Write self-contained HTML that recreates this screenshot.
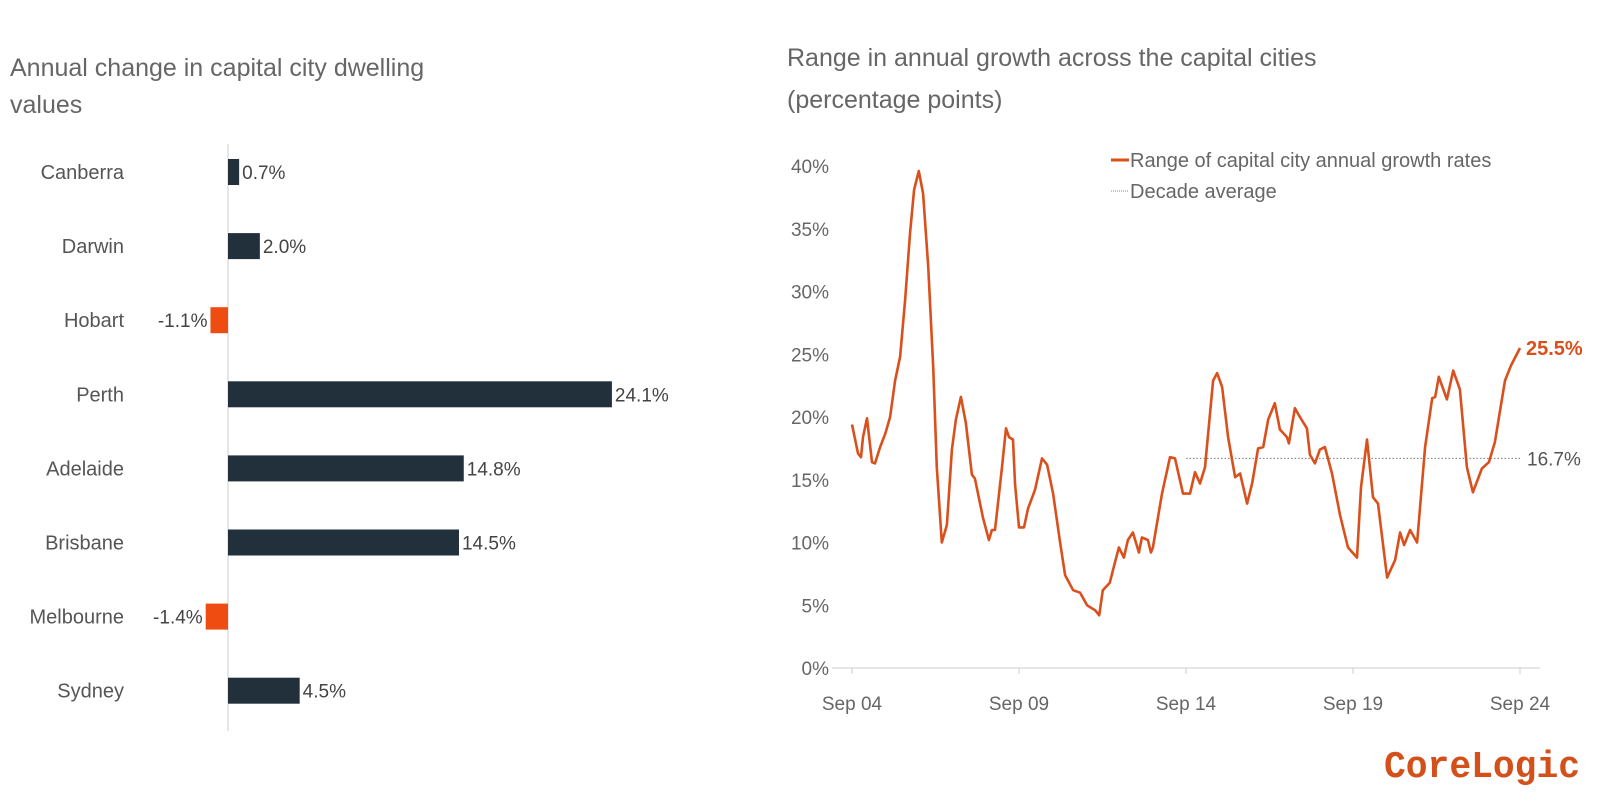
<!DOCTYPE html>
<html><head><meta charset="utf-8"><style>
html,body{margin:0;padding:0;background:#fff;}
body{width:1613px;height:801px;position:relative;overflow:hidden;font-family:"Liberation Sans",sans-serif;color:#555;}
svg{position:absolute;left:0;top:0;}
</style></head><body>
<svg id="c" width="1613" height="801" xmlns="http://www.w3.org/2000/svg"></svg>
<script>
const cities = ["Canberra","Darwin","Hobart","Perth","Adelaide","Brisbane","Melbourne","Sydney"];
const cityChange = [0.7,2.0,-1.1,24.1,14.8,14.5,-1.4,4.5];
const cityLabels = ["0.7%","2.0%","-1.1%","24.1%","14.8%","14.5%","-1.4%","4.5%"];

const yTicks = [0,5,10,15,20,25,30,35,40];
const yTickLabels = ["0%","5%","10%","15%","20%","25%","30%","35%","40%"];
const xTicks = [0,5,10,15,20];
const xTickLabels = ["Sep 04","Sep 09","Sep 14","Sep 19","Sep 24"];
const decadeAvg = 16.7;
const decadeStart = 10;
// years since Sep 2004
const growthDates = [0,0.18,0.27,0.33,0.45,0.6,0.69,0.84,1.0,1.14,1.29,1.44,1.59,1.74,1.86,2.0,2.13,2.28,2.43,2.54,2.69,2.84,2.99,3.11,3.26,3.41,3.59,3.68,3.92,4.1,4.19,4.28,4.49,4.61,4.7,4.82,4.88,5.0,5.15,5.27,5.48,5.69,5.84,6.02,6.23,6.38,6.62,6.83,7.04,7.28,7.4,7.51,7.72,7.87,7.99,8.14,8.26,8.41,8.59,8.68,8.86,8.95,9.01,9.28,9.52,9.67,9.91,10.12,10.27,10.42,10.57,10.81,10.93,11.08,11.26,11.47,11.62,11.83,11.98,12.16,12.31,12.46,12.66,12.81,13.02,13.08,13.26,13.41,13.62,13.71,13.86,14.01,14.16,14.37,14.61,14.85,15.12,15.24,15.42,15.6,15.75,16.02,16.26,16.41,16.53,16.71,16.92,17.16,17.37,17.46,17.57,17.81,18.0,18.2,18.41,18.59,18.86,19.07,19.25,19.37,19.55,19.73,20.0];
const growthValues = [19.4,17.1,16.8,18.4,19.9,16.4,16.3,17.6,18.7,20.0,22.9,24.8,29.3,34.7,38.1,39.6,37.8,32.0,24.0,16.0,10.0,11.4,17.4,19.8,21.6,19.5,15.4,15.1,12.0,10.2,11.0,11.0,16.0,19.1,18.4,18.2,14.7,11.2,11.2,12.7,14.2,16.7,16.2,13.9,10.0,7.4,6.2,6.0,5.0,4.6,4.2,6.2,6.8,8.4,9.6,8.8,10.2,10.8,9.2,10.4,10.2,9.2,9.6,13.9,16.8,16.7,13.9,13.9,15.6,14.7,16.0,22.9,23.5,22.4,18.4,15.2,15.5,13.1,14.7,17.5,17.6,19.8,21.1,19.0,18.4,17.9,20.7,20.0,19.1,17.0,16.3,17.4,17.6,15.5,12.2,9.6,8.8,14.4,18.2,13.6,13.1,7.2,8.6,10.8,9.8,11.0,10.0,17.6,21.5,21.6,23.2,21.4,23.7,22.2,16.0,14.0,15.9,16.4,18.0,20.0,22.9,24.1,25.5];
const lastLabel = "25.5%";
const avgLabel = "16.7%";

const NS="http://www.w3.org/2000/svg";
const svg=document.getElementById('c');
function mk(tag,attrs,parent){const e=document.createElementNS(NS,tag);for(const k in attrs)e.setAttribute(k,attrs[k]);(parent||svg).appendChild(e);return e;}
function txt(s,attrs){const e=mk('text',attrs);e.textContent=s;return e;}
const F='"Liberation Sans",sans-serif';

// titles
let t=txt("Annual change in capital city dwelling",{x:10,y:76,'font-size':25,fill:'#666','font-family':F});

t=txt("values",{x:10,y:113,'font-size':25,fill:'#666','font-family':F});

t=txt("Range in annual growth across the capital cities",{x:787,y:66,'font-size':25,fill:'#666','font-family':F});

t=txt("(percentage points)",{x:787,y:108,'font-size':25,fill:'#666','font-family':F});


// bar chart
const bx0=228, bxs=15.93, by0=172, bys=74.1, bh=26;
const bX=v=>bx0+v*bxs, bY=i=>by0+i*bys;
let ax=mk('line',{x1:bx0,x2:bx0,y1:144,y2:731,stroke:'#ccc','stroke-width':1});

cities.forEach((c,i)=>{
  const v=cityChange[i], y=bY(i);
  const l=txt(c,{x:124,y:y+7,'text-anchor':'end','font-size':20,fill:'#555','font-family':F});
  
  
  const x1=Math.min(bX(0),bX(v)), w=Math.abs(bX(v)-bX(0));
  const r=mk('rect',{x:x1,y:y-bh/2,width:w,height:bh,fill:v<0?'#ee4c10':'#22303c'});
  
  
  const vl=txt(cityLabels[i],{x:v<0?x1-3:x1+w+3,y:y+7,'text-anchor':v<0?'end':'start','font-size':19,fill:'#444','font-family':F});
  
  
});

// line chart
const lx0=852, lxs=33.4, ly0=668, lys=12.55;
const X=d=>lx0+d*lxs, Y=v=>ly0-v*lys;
ax=mk('line',{x1:lx0-20,x2:X(20)+20,y1:Y(0),y2:Y(0),stroke:'#ccc','stroke-width':1});

yTicks.forEach((v,i)=>{
  const e=txt(yTickLabels[i],{x:829,y:Y(v)+7,'text-anchor':'end','font-size':19,fill:'#666','font-family':F});
  
  
});
xTicks.forEach((d,i)=>{
  const tk=mk('line',{x1:X(d),x2:X(d),y1:Y(0),y2:Y(0)+6,stroke:'#ccc'});
  
  
  const e=txt(xTickLabels[i],{x:X(d),y:Y(0)+42,'text-anchor':'middle','font-size':19,fill:'#666','font-family':F});
  
  
});
let avg=mk('line',{x1:X(decadeStart),x2:X(20),y1:Y(decadeAvg),y2:Y(decadeAvg),stroke:'#777','stroke-width':1,'stroke-dasharray':'1.5 2'});

let d=growthDates.map((g,i)=>(i?'L':'M')+X(g).toFixed(1)+' '+Y(growthValues[i]).toFixed(1)).join(' ');
let p=mk('path',{d:d,fill:'none',stroke:'#d9501c','stroke-width':2.6,'stroke-linejoin':'round'});

const li=growthValues.length-1;
t=txt(lastLabel,{x:X(growthDates[li])+6,y:Y(growthValues[li])+7,'font-size':20,'font-weight':'bold',fill:'#d9501c','font-family':F});

t=txt(avgLabel,{x:X(20)+7,y:Y(decadeAvg)+7,'font-size':19,fill:'#555','font-family':F});


// legend
let lg=mk('line',{x1:1111,x2:1129,y1:160,y2:160,stroke:'#d9501c','stroke-width':3});

t=txt("Range of capital city annual growth rates",{x:1130,y:167,'font-size':20,fill:'#666','font-family':F});

lg=mk('line',{x1:1111,x2:1129,y1:191,y2:191,stroke:'#888','stroke-width':1,'stroke-dasharray':'1 1'});

t=txt("Decade average",{x:1130,y:198,'font-size':20,fill:'#666','font-family':F});


// logo
t=txt("CoreLogic",{x:1384,y:777,'font-size':38,'font-weight':'bold',fill:'#d4501a','font-family':'"Liberation Mono",monospace','textLength':196,'lengthAdjust':'spacingAndGlyphs'});

</script>
</body></html>
